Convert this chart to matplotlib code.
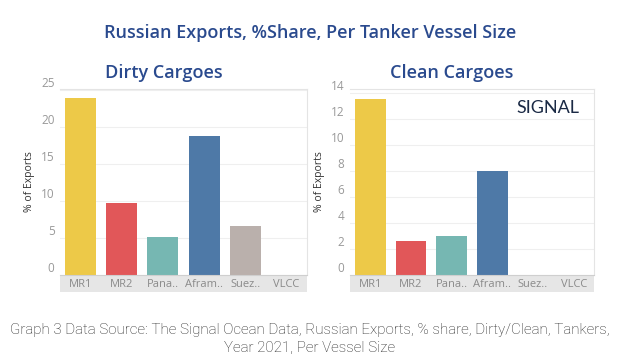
import matplotlib
matplotlib.use("Agg")
import matplotlib.pyplot as plt
from matplotlib.patches import Rectangle

# data
sizes = ["MR1", "MR2", "Pana..", "Afram..", "Suez..", "VLCC"]
colors = ["#EDC948", "#E15759", "#76B7B2", "#4E79A7", "#BAB0AC", "#9C755F"]
dirty = [24.0, 9.8, 5.2, 18.9, 6.7, 0.0]
clean = [13.5, 2.6, 3.0, 8.0, 0.0, 0.0]
dirty_ticks = [0, 5, 10, 15, 20, 25]
clean_ticks = [0, 2, 4, 6, 8, 10, 12, 14]

plt.rcParams['font.family'] = ['Open Sans', 'DejaVu Sans']

W, H = 620, 363
fig = plt.figure(figsize=(W / 100, H / 100), dpi=100)
fig.patch.set_facecolor("white")

def px(x0, y0, x1, y1):
    return [x0 / W, 1 - y1 / H, (x1 - x0) / W, (y1 - y0) / H]

def panel(rect, vals, ticks, ymax, title, tx):
    ax = fig.add_axes(rect)
    x = range(len(sizes))
    ax.bar(x, vals, width=0.75, color=colors, zorder=2)
    ax.set_xlim(-0.5, len(sizes) - 0.5)
    ax.set_ylim(0, ymax)
    ax.set_yticks(ticks)
    ax.set_xticks(list(x))
    ax.set_xticklabels(sizes)
    ax.tick_params(axis='x', length=0, pad=3, labelsize=8, labelcolor="#8a8a8a")
    ax.tick_params(axis='y', length=0, pad=4, labelsize=8.5, labelcolor="#999999")
    for lbl in ax.get_yticklabels():
        lbl.set_verticalalignment('bottom')
    ax.grid(axis='y', color="#efefef", linewidth=0.8, zorder=0)
    ax.set_axisbelow(True)
    ax.spines["left"].set_visible(False)
    for s in ["top", "right"]:
        ax.spines[s].set_color("#e4e4e4")
        ax.spines[s].set_linewidth(0.8)
    ax.spines["bottom"].set_color("#cfcfcf")
    ax.spines["bottom"].set_linewidth(0.8)
    ax.set_ylabel("% of Exports", fontsize=7.5, color="#333333", labelpad=4)
    band = 17 / (rect[3] * H)
    ax.add_patch(Rectangle((0, -band), 1, band, transform=ax.transAxes,
                           clip_on=False, facecolor="#e6e6e6", edgecolor="none", zorder=0))
    fig.text(tx / W, 1 - 73 / H, title, ha='center', va='center',
             fontsize=13, fontweight='semibold', color="#2a4a8e")
    return ax

panel(px(60, 89, 307, 275), dirty, dirty_ticks, 25.2, "Dirty Cargoes", 164)
ax2 = panel(px(350, 89, 594, 275), clean, clean_ticks, 14.3, "Clean Cargoes", 452)

ax2.text(0.94, 0.9, "SIGNAL", transform=ax2.transAxes, ha='right', va='center',
         fontsize=13, color="#1b2a45", fontweight='normal', family=['Lato', 'DejaVu Sans'])

fig.text(0.5, 1 - 33 / H, "Russian Exports, %Share, Per Tanker Vessel Size",
         ha='center', va='center', fontsize=13, fontweight='semibold', color="#2a4a8e")

fig.text(0.5, 1 - 339 / H,
         "Graph 3 Data Source: The Signal Ocean Data, Russian Exports, % share, Dirty/Clean, Tankers,\nYear 2021, Per Vessel Size",
         ha='center', va='center', fontsize=10.9, color="#222222", family=['Roboto', 'DejaVu Sans'],
         fontweight='light', linespacing=1.3)

fig.savefig("out.png", dpi=100)
